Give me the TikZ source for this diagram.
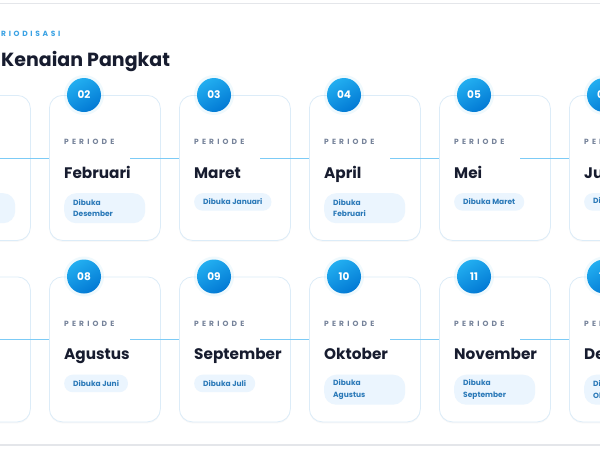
\documentclass[tikz,border=0pt]{standalone}
\usepackage{fontspec}
\setmainfont{Poppins}
\usetikzlibrary{backgrounds,shadows}
\definecolor{cardline}{HTML}{DCECF8}
\definecolor{pergray}{HTML}{76839A}
\definecolor{ink}{HTML}{171C2F}
\definecolor{badgebg}{HTML}{EBF5FE}
\definecolor{badgeink}{HTML}{2A79B8}
\definecolor{dotA}{HTML}{22AEF0}
\definecolor{dotB}{HTML}{0279D4}
\definecolor{connA}{HTML}{7CCBF6}
\definecolor{connB}{HTML}{D3EAFA}
\definecolor{kick}{HTML}{3AA2E4}
\definecolor{frameline}{HTML}{E4E6EA}
\tikzset{
  cardbox/.style={draw=cardline, fill=white, rounded corners=13pt, minimum width=111pt,
    minimum height=145pt, line width=0.8pt, inner sep=0pt,
    drop shadow={opacity=0.05, shadow xshift=0pt, shadow yshift=-1.5pt}},
  numdot/.style={circle, minimum size=34pt, inner sep=0pt, top color=dotA, bottom color=dotB,
    shading angle=30, text=white, font=\bfseries\fontsize{10.5}{12}\selectfont},
  glow/.style={fill=dotA, opacity=0.07},
  perlabel/.style={anchor=base west, text=pergray, inner sep=0pt,
    font=\bfseries\fontsize{7.5}{9}\selectfont\addfontfeature{LetterSpace=42}},
  monthlabel/.style={anchor=base west, text=ink, inner sep=0pt,
    font=\bfseries\fontsize{15.3}{18}\selectfont},
  badge/.style={anchor=north west, fill=badgebg, text=badgeink, rounded corners=8.5pt,
    font=\bfseries\fontsize{7.5}{11.5}\selectfont, inner xsep=9pt, inner ysep=0pt,
    minimum height=17.5pt, align=left},
  badgetwo/.style={badge, text width=63pt, minimum height=30pt, rounded corners=12pt},
  conn/.style={draw=connA, line width=1pt},
  connfaint/.style={draw=connB, line width=1pt},
  frame/.style={draw=frameline}
}
\newcommand\mkcard[7]{%
  \node[cardbox, anchor=north west] (#1) at (#2,#3) {};
  \fill[glow] ([xshift=35pt]#1.north west) circle (20pt);
  \node[numdot] (#1n) at ([xshift=35pt]#1.north west) {#4};
  \node[perlabel] (#1p) at ([xshift=15pt,yshift=-49.8pt]#1.north west) {PERIODE};
  \node[monthlabel] (#1m) at ([xshift=15pt,yshift=-83.3pt]#1.north west) {#5};
  \node[#7] (#1b) at ([xshift=15pt,yshift=-98pt]#1.north west) {#6};
}
\begin{document}
\begin{tikzpicture}[x=1pt,y=-1pt]
\useasboundingbox (0,0) rectangle (600,450);
\clip (0,0) rectangle (600,450);
\fill[white] (0,0) rectangle (600,450);
\draw[frame] (-20,3.5) -- (620,3.5);
\draw[frame, line width=1.6pt] (-20,445) -- (620,445);

\node[anchor=base west, inner sep=0pt, text=kick,
  font=\bfseries\fontsize{7.5}{9}\selectfont\addfontfeature{LetterSpace=36}] (kicker) at (1,36.3) {RIODISASI};
\node[anchor=base west, inner sep=0pt, text=ink,
  font=\bfseries\fontsize{19}{22}\selectfont] (title) at (1,66) {Kenaian Pangkat};

% row 1 (card 01 lies mostly outside the picture: only its edge and badge show)
\node[cardbox, anchor=north west] (c1) at (-81,95) {};
\node[badgetwo] (c1b) at ([xshift=15pt,yshift=-98pt]c1.north west) {\phantom{Dibuka}\\\phantom{November}};
\mkcard{c2}{49}{95}{02}{Februari}{Dibuka\\Desember}{badgetwo}
\mkcard{c3}{179}{95}{03}{Maret}{Dibuka Januari}{badge}
\mkcard{c4}{309}{95}{04}{April}{Dibuka\\Februari}{badgetwo}
\mkcard{c5}{439}{95}{05}{Mei}{Dibuka Maret}{badge}
\mkcard{c6}{569}{95}{06}{Juni}{Dibuka April}{badge}
% row 2
\node[cardbox, anchor=north west] (c7) at (-81,276.5) {};
\mkcard{c8}{49}{276.5}{08}{Agustus}{Dibuka Juni}{badge}
\mkcard{c9}{179}{276.5}{09}{September}{Dibuka Juli}{badge}
\mkcard{c10}{309}{276.5}{10}{Oktober}{Dibuka\\Agustus}{badgetwo}
\mkcard{c11}{439}{276.5}{11}{November}{Dibuka\\September}{badgetwo}
\mkcard{c12}{569}{276.5}{12}{Desember}{Dibuka\\Oktober}{badgetwo}

\begin{scope}[on background layer]
  \draw[connfaint] ([yshift=-57pt]c1.north west) -- ([yshift=-57pt]c6.north east);
\end{scope}

\foreach \a/\b in {c1/c2,c2/c3,c3/c4,c4/c5,c5/c6,c7/c8,c8/c9,c9/c10,c10/c11,c11/c12}{
  \draw[conn] ([xshift=81pt,yshift=-63pt]\a.north west) -- ([yshift=-63pt]\b.north west);
}
\end{tikzpicture}
\end{document}
